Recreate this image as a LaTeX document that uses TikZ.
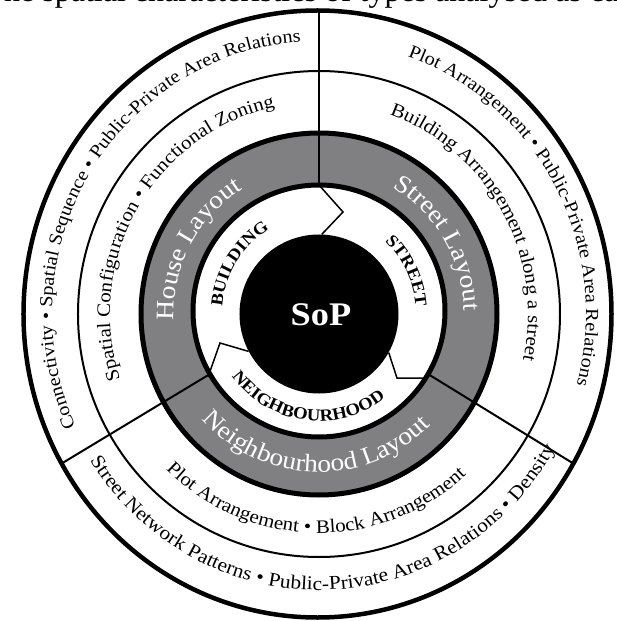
\documentclass[tikz,border=0pt]{standalone}
\usepackage{fontspec}
\setmainfont{Liberation Serif}
\newfontfamily\rf[FakeStretch=1.1]{Liberation Serif}
\usetikzlibrary{decorations.text}
\definecolor{bandgray}{RGB}{128,128,131}
\newcommand\fouter{\rf\fontsize{18.5}{18.5}\selectfont}
\newcommand\fbottom{\rf\fontsize{19.5}{19.5}\selectfont}
\newcommand\fmid{\rf\fontsize{19}{19}\selectfont}
\newcommand\fband{\rf\fontsize{25}{25}\selectfont}
\newcommand\finner{\rf\bfseries\fontsize{17}{17}\selectfont}
\tikzset{
  ringthick/.style={draw=black, line width=4.5pt},
  ringthin/.style={draw=black, line width=2pt},
  bandedge/.style={draw=black, line width=5pt},
  divider/.style={draw=black, line width=2pt},
  zigzag/.style={draw=black, line width=1.5pt, line join=miter},
  arctext/.style={decorate, decoration={text along path, text align=center, text={#1}}},
  arctextw/.style={decorate, decoration={text along path, text align=center, text color=white, text={#1}}},
}
\begin{document}
\begin{tikzpicture}[x=1pt,y=1pt]
\useasboundingbox (-319,-307) rectangle (297,314);
\clip (-319,-307) rectangle (297,314);
\fill[white] (-319,-307) rectangle (297,314);
% caption fragment at top (cut off)
\node[overlay, anchor=base west, inner sep=0, font=\fontsize{32}{32}\selectfont] (cap) at (-315,312.5) {he spatial characteristics of types analysed as ca};
% gray band
\fill[bandgray] (0,0) ellipse[x radius=178pt, y radius=181pt];
\fill[white] (0,3) ellipse[x radius=126pt, y radius=126pt];
% rings
\draw[ringthick] (-1.5,0) ellipse[x radius=294pt, y radius=303.5pt];
\draw[ringthin] (0,0) ellipse[x radius=241pt, y radius=243pt];
% coordinates on rings
\coordinate (gi90) at (0,129);
\coordinate (go90) at (0,303.5);
\coordinate (gi210) at (-109,-60);
\coordinate (go210) at (-256.5,-149);
\coordinate (gi330) at (109,-60);
\coordinate (go330) at (253.5,-149);
% radial dividers
\draw[divider] (gi90) -- (go90);
\draw[divider] (gi210) -- (go210);
\draw[divider] (gi330) -- (go330);
% band edges
\draw[bandedge] (0,0) ellipse[x radius=178pt, y radius=181pt];
\draw[bandedge] (0,3) ellipse[x radius=126pt, y radius=126pt];
% core
\node[circle, fill=black, minimum size=159pt, inner sep=0] (sop) at (0,0) {};
\node[anchor=base, inner sep=0, text=white, font=\rf\bfseries\fontsize{33}{33}\selectfont] (soplabel) at (2,-11) {SoP};
% zigzags
\coordinate (zt1) at (24,102);
\coordinate (zl0) at (-111,-63);
\coordinate (zl1) at (-99,-29);
\coordinate (zr0) at (108,-64);
\coordinate (zr1) at (78,-64);
\draw[zigzag] (gi90) -- (zt1) -- (sop.88);
\draw[zigzag] (zl0) -- (zl1) -- (sop.208);
\draw[zigzag] (zr0) -- (zr1) -- (sop.331);
% outer ring texts
\path[arctext={|\fouter|Connectivity • Spatial Sequence • Public-Private Area Relations}]
  (225:267pt and 273pt) arc[start angle=225, end angle=73, x radius=267pt, y radius=273pt];
\path[arctext={|\fouter|Plot Arrangement • Public-Private Area Relations}]
  (100:267pt and 273pt) arc[start angle=100, end angle=-44, x radius=267pt, y radius=273pt];
\path[arctext={|\fbottom|Street Network Patterns • Public-Private Area Relations • Density}]
  (196.5:270pt and 276pt) arc[start angle=196.5, end angle=346.5, x radius=270pt, y radius=276pt];
% middle ring texts
\path[arctext={|\fmid|Spatial Configuration • Functional Zoning}]
  (215:209pt and 212pt) arc[start angle=215, end angle=85, x radius=209pt, y radius=212pt];
\path[arctext={|\fmid|Building Arrangement along a street}]
  (94:209pt and 212pt) arc[start angle=94, end angle=-36, x radius=209pt, y radius=212pt];
\path[arctext={|\fmid|Plot Arrangement • Block Arrangement}]
  (204:217pt and 219pt) arc[start angle=204, end angle=334, x radius=217pt, y radius=219pt];
% band texts
\path[arctextw={|\fband|House Layout}]
  (207:145pt and 147pt) arc[start angle=207, end angle=97, x radius=145pt, y radius=147pt];
\path[arctextw={|\fband|Street Layout}]
  (85.5:145pt and 147pt) arc[start angle=85.5, end angle=-24.5, x radius=145pt, y radius=147pt];
\path[arctextw={|\fband|Neighbourhood Layout}]
  (208.5:157pt and 158pt) arc[start angle=208.5, end angle=328.5, x radius=157pt, y radius=158pt];
% inner texts
\path[arctext={|\finner|BUILDING}]
  (198:97pt and 99pt) arc[start angle=198, end angle=98, x radius=97pt, y radius=99pt];
\path[arctext={|\finner|STREET}]
  (76:97pt and 99pt) arc[start angle=76, end angle=-24, x radius=97pt, y radius=99pt];
\path[arctext={|\finner|NEIGHBOURHOOD}]
  (197:107pt and 107pt) arc[start angle=197, end angle=327, x radius=107pt, y radius=107pt];
\end{tikzpicture}
\end{document}
